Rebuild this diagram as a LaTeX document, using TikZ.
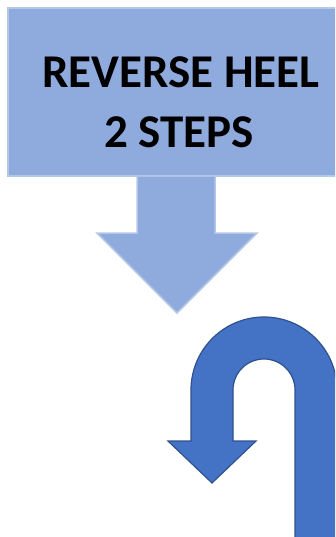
\documentclass[tikz,border=0pt]{standalone}
\usepackage{fontspec}
\setmainfont{Carlito}
\definecolor{boxfill}{HTML}{8FAADC}
\definecolor{boxedge}{HTML}{B4C7E7}
\definecolor{ufill}{HTML}{4472C4}
\definecolor{uedge}{HTML}{2F528F}
\tikzset{
  lightshape/.style={fill=boxfill, draw=boxedge, line width=1.5pt, line join=miter},
  darkshape/.style={fill=ufill, draw=uedge, line width=1.2pt, line join=miter},
  label/.style={font=\fontsize{47}{56}\selectfont\bfseries, text=black, inner sep=0pt, anchor=base}
}
\begin{document}
\begin{tikzpicture}[x=1pt,y=-1pt]
\useasboundingbox (0,0) rectangle (335,537);
\clip (0,0) rectangle (335,537);
% box
\path[lightshape] (8,8) rectangle (354,176);
\node[label] (t1) at (181,87.5) {REVERSE HEEL};
\node[label] (t2) at (179,147.5) {2 STEPS};
% down arrow
\path[lightshape] (137,177) -- (137,233) -- (97,233) -- (177,313) -- (257,233) -- (215,233) -- (215,177);
% U-turn arrow
\path[darkshape] (337,538) -- (337,390) arc[start angle=0, end angle=-180, radius=73]
  -- (191,441) -- (168,441) -- (212,483) -- (256,441) -- (233,441) -- (233,390)
  arc[start angle=180, end angle=360, radius=31] -- (295,538) -- cycle;
\end{tikzpicture}
\end{document}
